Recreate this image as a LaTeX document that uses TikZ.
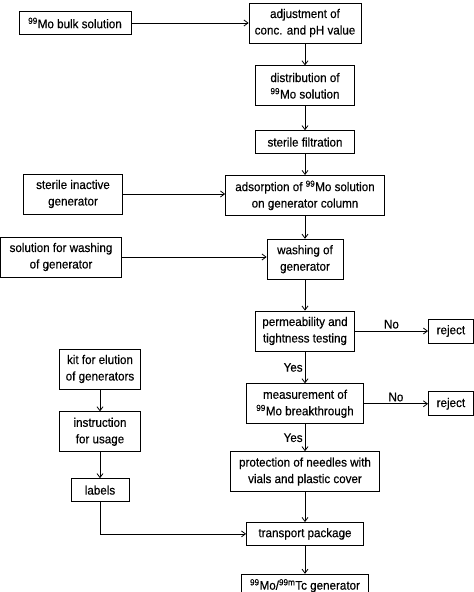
\documentclass[tikz,border=0pt]{standalone}
\usepackage{fontspec}
\setmainfont[FakeStretch=0.93,FakeBold=0.4]{Liberation Sans}
\usetikzlibrary{arrows.meta,positioning}

\begin{document}
\begin{tikzpicture}[
  x=1pt,y=-1pt,
  box/.style={draw,line width=0.8pt,align=center,inner sep=1pt,
              font=\fontsize{12.5}{16.5}\selectfont},
  one/.style={box,minimum height=23pt},
  two/.style={box,minimum height=40pt},
  lbl/.style={font=\fontsize{12.5}{14}\selectfont,inner sep=2pt},
  arr/.style={-{Straight Barb[length=4pt,width=6pt]},line width=0.8pt}
]
\useasboundingbox (0,0) rectangle (474,592);
% main column
\node[two,minimum width=112pt] (adjust) at (305,23) {adjustment of\\conc. and pH value};
\node[two,minimum width=99pt,below=22pt of adjust] (distrib) {distribution of\\\textsuperscript{99}Mo solution};
\node[one,minimum width=99pt,below=24pt of distrib] (filter) {sterile filtration};
\node[two,minimum width=159pt,below=21pt of filter] (adsorb) {adsorption of \textsuperscript{99}Mo solution\\on generator column};
\node[two,minimum width=76pt,below=23pt of adsorb] (wash) {washing of\\generator};
\node[two,minimum width=99pt,below=31pt of wash] (perm) {permeability and\\tightness testing};
\node[two,minimum width=117pt,below=32pt of perm] (measure) {measurement of\\\textsuperscript{99}Mo breakthrough};
\node[two,minimum width=149pt,below=27pt of measure] (protect) {protection of needles with\\vials and plastic cover};
\node[one,minimum width=117pt,below=30pt of protect] (transport) {transport package};
\node[one,minimum width=127pt,below=28pt of transport] (gen) {\textsuperscript{99}Mo/\textsuperscript{99m}Tc generator};
% inputs on the left
\node[one,minimum width=112pt] (bulk) at (75,23) {\textsuperscript{99}Mo bulk solution};
\node[two,minimum width=99pt] (inactive) at (73,194) {sterile inactive\\generator};
\node[two,minimum width=121pt] (washsol) at (61,257) {solution for washing\\of generator};
\node[two,minimum width=81pt] (kit) at (100,369) {kit for elution\\of generators};
\node[two,minimum width=81pt,below=22pt of kit] (instr) {instruction\\for usage};
\node[one,minimum width=58pt,below=26pt of instr] (labels) {labels};
% rejects
\node[one,minimum width=45pt,minimum height=24pt,anchor=west] (reject1) at (perm.east -| 428,0) {reject};
\node[one,minimum width=45pt,minimum height=24pt,anchor=west] (reject2) at (measure.east -| 428,0) {reject};
\draw[arr] (bulk)--(bulk -| adjust.west);
\draw[arr] (adjust)--(distrib);
\draw[arr] (distrib)--(filter);
\draw[arr] (filter)--(adsorb);
\draw[arr] (inactive)--(inactive -| adsorb.west);
\draw[arr] (adsorb)--(wash);
\draw[arr] (washsol)--(washsol -| wash.west);
\draw[arr] (wash)--(perm);
\draw[arr] (perm)--node[lbl,above]{No}(reject1);
\draw[arr] (perm)--node[lbl,left]{Yes}(measure);
\draw[arr] (measure)--node[lbl,above]{No}(reject2);
\draw[arr] (measure)--node[lbl,left]{Yes}(protect);
\draw[arr] (protect)--(transport);
\draw[arr] (kit)--(instr);
\draw[arr] (instr)--(labels);
\draw[arr] (labels)|-(transport);
\draw[arr] (transport)--(gen);
\end{tikzpicture}
\end{document}
